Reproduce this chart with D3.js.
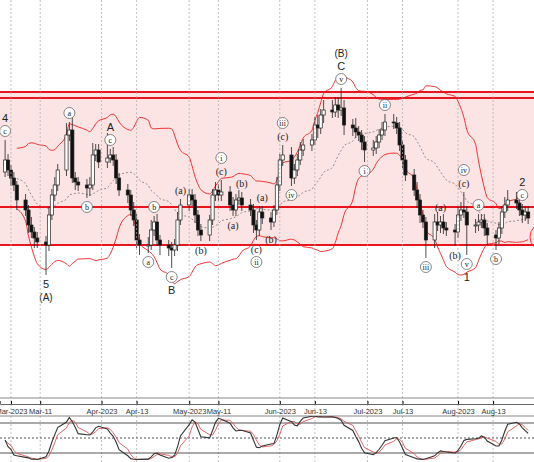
<!DOCTYPE html>
<html><head><meta charset="utf-8">
<script src="https://cdn.jsdelivr.net/npm/d3@7"></script>
<style>body{margin:0;background:#fff}svg{display:block}</style>
</head><body><div id="chart"></div>
<script>
// daily closes, one row per week (Mon..Fri), from 2023-02-27
const closes = [
 240,230,222,215,200, 190,175,168,162,158, 155,185,205,215,230, 265,270,222,218,215,
 212,215,245,250,238, 242,245,240,222,210, 205,190,180,160,155, 155,170,178,160,155,
 152,150,155,180,195, 205,200,185,170,165, 180,205,210,205,208, 195,190,200,202,195,
 190,175,170,188,182, 178,190,215,240,245, 222,230,240,250,255, 260,275,272,285,290,
 288,295,290,292,275, 272,268,265,258,250, 252,258,265,270,278, 277,272,255,240,225,
 210,200,185,178,160, 178,175,178,172,170, 168,185,190,188,175, 175,178,180,172,165,
 162,172,188,195,200, 197,190,185,188,182];
const opens0 = 228;
// wick lengths above/below the body
const wickUp = [
 20,6,5,6,4, 6,5,8,5,6, 6,8,6,8,6, 12,8,14,6,5,
 6,8,12,6,6, 25,6,8,6,5, 6,5,8,6,6, 8,10,6,8,5,
 5,6,6,8,6, 6,6,6,5,6, 5,6,8,6,12, 6,8,6,8,6,
 6,6,5,6,6, 6,5,8,6,10, 8,6,6,8,6, 6,8,10,6,10,
 10,8,8,20,8, 6,10,6,5,6, 8,6,6,8,8, 8,6,6,5,5,
 6,8,6,5,5, 8,10,6,8,6, 6,8,8,18,6, 6,8,6,6,5,
 5,6,6,8,10, 8,6,6,6,6];
const wickDn = [
 5,6,8,6,10, 6,8,6,10,6, 30,6,5,6,6, 6,6,5,8,6,
 10,8,5,6,6, 6,5,6,6,6, 8,6,6,8,10, 8,5,6,6,10,
 8,18,6,6,5, 6,6,8,6,6, 6,5,6,6,6, 6,6,6,5,6,
 6,8,10,6,6, 8,5,5,6,6, 8,6,6,5,6, 6,5,10,6,8,
 6,5,8,6,10, 8,6,6,8,12, 6,6,6,5,6, 6,6,6,8,6,
 6,8,8,6,18, 8,6,8,6,6, 14,6,6,6,30, 8,6,6,8,10,
 12,6,6,6,6, 6,6,8,6,6];
// wave labels: date, text, circled?, above/below, stack row
const waveLabels = [
 ["2023-02-27","c",1,"hi",0],["2023-02-27","4",0,"hi",1],
 ["2023-03-13","5",0,"lo",0],["2023-03-13","(A)",0,"lo",1],
 ["2023-03-21","a",1,"hi",0],["2023-03-27","b",1,"lo",0],
 ["2023-04-04","c",1,"hi",0],["2023-04-04","A",0,"hi",1],
 ["2023-04-17","a",1,"lo",0],["2023-04-19","b",1,"hi",0],
 ["2023-04-25","c",1,"lo",0],["2023-04-25","B",0,"lo",1],
 ["2023-04-28","(a)",0,"hi",0],["2023-05-05","(b)",0,"lo",0],
 ["2023-05-12","(c)",0,"hi",0],["2023-05-12","i",1,"hi",1],
 ["2023-05-16","(a)",0,"lo",0],["2023-05-19","(b)",0,"hi",0],
 ["2023-05-24","(c)",0,"lo",0],["2023-05-24","ii",1,"lo",1],
 ["2023-05-26","(a)",0,"hi",0],["2023-05-29","(b)",0,"lo",0],
 ["2023-06-02","(c)",0,"hi",0],["2023-06-02","iii",1,"hi",1],
 ["2023-06-05","iv",1,"lo",0],
 ["2023-06-22","v",1,"hi",0],["2023-06-22","C",0,"hi",1],["2023-06-22","(B)",0,"hi",2],
 ["2023-06-30","i",1,"lo",0],["2023-07-07","ii",1,"hi",0],["2023-07-21","iii",1,"lo",0],
 ["2023-07-26","(a)",0,"hi",0],["2023-07-31","(b)",0,"lo",0],
 ["2023-08-03","(c)",0,"hi",0],["2023-08-03","iv",1,"hi",1],
 ["2023-08-04","v",1,"lo",0],["2023-08-04","1",0,"lo",1],
 ["2023-08-08","a",1,"hi",0],["2023-08-14","b",1,"lo",0],
 ["2023-08-23","c",1,"hi",0],["2023-08-23","2",0,"hi",1]];
const levels = [308, 302, 193, 155];
const tickDates = ["2023-03-01","2023-03-11","2023-04-01","2023-04-13","2023-05-01","2023-05-11",
 "2023-06-01","2023-06-13","2023-07-01","2023-07-13","2023-08-01","2023-08-13"];
const tickLabels = ["Mar-2023","Mar-11","Apr-2023","Apr-13","May-2023","May-11",
 "Jun-2023","Jun-13","Jul-2023","Jul-13","Aug-2023","Aug-13"];

const W = 534, H = 462;
const parse = d3.timeParse("%Y-%m-%d");
const dates = [];
for (let d = parse("2023-02-27"); dates.length < closes.length; d = d3.timeDay.offset(d, 1))
  if (d.getDay() > 0 && d.getDay() < 6) dates.push(d);
const bars = closes.map((c, i) => {
  const o = i ? closes[i-1] : opens0;
  return {date: dates[i], o, c, h: Math.max(o, c) + wickUp[i], l: Math.min(o, c) - wickDn[i]};
});

const x = d3.scaleTime().domain([new Date(2023,1,25,6), new Date(2023,7,27)]).range([0, W]);
const y = d3.scaleLinear().domain([0, 400]).range([400, 0]);
const ys = d3.scaleLinear().domain([0, 100]).range([463, 413]);

const svg = d3.select("#chart").append("svg").attr("width", W).attr("height", H)
  .style("font-family", "Liberation Sans, Arial, sans-serif");
svg.append("defs").append("clipPath").attr("id", "main").append("rect")
  .attr("width", W).attr("height", 398);
svg.append("defs").append("clipPath").attr("id", "low").append("rect")
  .attr("y", 416).attr("width", W).attr("height", 46);
const g = svg.append("g").attr("clip-path", "url(#main)");

// band
g.append("rect").attr("x", 0).attr("width", W).attr("y", y(levels[0]))
  .attr("height", y(levels[3]) - y(levels[0])).attr("fill", "#fde4e4");

// grid
svg.append("g").selectAll("line").data(tickDates).join("line")
  .attr("x1", d => x(parse(d))).attr("x2", d => x(parse(d)))
  .attr("y1", 0).attr("y2", H).attr("stroke", "#aaa").attr("stroke-dasharray", "2,2").attr("stroke-width", 0.7);

// bollinger
const bb = bars.map((b, i) => {
  const w = closes.slice(Math.max(0, i - 19), i + 1);
  const m = d3.mean(w), s = d3.deviation(w) || 0;
  return {date: b.date, m, u: m + 2 * s, l: m - 2 * s};
}).slice(4);
const line = k => d3.line().x(d => x(d.date)).y(d => y(d[k])).curve(d3.curveMonotoneX);
g.append("path").datum(bb).attr("d", line("u")).attr("fill", "none").attr("stroke", "#e33").attr("stroke-width", 1);
g.append("path").datum(bb).attr("d", line("l")).attr("fill", "none").attr("stroke", "#e33").attr("stroke-width", 1);
g.append("path").datum(bb).attr("d", line("m")).attr("fill", "none").attr("stroke", "#777")
  .attr("stroke-width", 0.8).attr("stroke-dasharray", "2,2");

// levels
g.selectAll(".lvl").data(levels).join("line")
  .attr("x1", 0).attr("x2", W).attr("y1", d => y(d)).attr("y2", d => y(d))
  .attr("stroke", "#e8141e").attr("stroke-width", 2);

// candles
const cg = g.selectAll(".c").data(bars).join("g");
cg.append("line").attr("x1", d => x(d.date)).attr("x2", d => x(d.date))
  .attr("y1", d => y(d.h)).attr("y2", d => y(d.l)).attr("stroke", "#222").attr("stroke-width", 0.8);
cg.append("rect").attr("x", d => x(d.date) - 1.6).attr("width", 3.2)
  .attr("y", d => y(Math.max(d.o, d.c))).attr("height", d => Math.max(1, Math.abs(y(d.o) - y(d.c))))
  .attr("fill", d => d.c >= d.o ? "#fff" : "#111").attr("stroke", "#222").attr("stroke-width", 0.7);

// red circle at right edge
g.append("circle").attr("cx", 544).attr("cy", 237).attr("r", 14).attr("fill", "none").attr("stroke", "#e33");

// labels
const byDate = new Map(bars.map(b => [+b.date, b]));
const lg = g.append("g").style("font-family", "Liberation Serif, serif");
waveLabels.forEach(([ds, t, circ, side, row]) => {
  const b = byDate.get(+parse(ds));
  const cx = x(b.date);
  const base = side === "hi" ? y(b.h) - 9 : y(b.l) + 9;
  const cy = base + (side === "hi" ? -1 : 1) * row * 13;
  if (circ) lg.append("circle").attr("cx", cx).attr("cy", cy).attr("r", 5.5)
    .attr("fill", "#fff").attr("stroke", "#555").attr("stroke-width", 0.7);
  lg.append("text").attr("x", cx).attr("y", cy).attr("dy", "0.35em").attr("text-anchor", "middle")
    .style("font-size", circ ? "8px" : (t.length < 3 && !t.includes("(") ? "11px" : "10px"))
    .style("font-family", (!circ && /^[0-9A-C]$|\(A\)|\(B\)/.test(t)) ? "Liberation Sans, sans-serif" : null)
    .attr("fill", "#222").text(t);
});

// axis strip
svg.append("line").attr("x1", 0).attr("x2", W).attr("y1", 398).attr("y2", 398).attr("stroke", "#888");
svg.append("line").attr("x1", 0).attr("x2", W).attr("y1", 416).attr("y2", 416).attr("stroke", "#888");
const ax = svg.append("g").attr("transform", "translate(0,404)")
  .call(d3.axisTop(x).tickValues(tickDates.map(parse)).tickSize(3)
    .tickFormat((d, i) => tickLabels[i]));
ax.select(".domain").attr("stroke", "#666");
ax.selectAll("text").attr("y", 6).attr("dy", "0.5em").style("font-size", "7.5px").attr("fill", "#333");

// stochastic (14,3,3)
const kRaw = bars.map((b, i) => {
  const w = bars.slice(Math.max(0, i - 13), i + 1);
  const hh = d3.max(w, d => d.h), ll = d3.min(w, d => d.l);
  return 100 * (b.c - ll) / (hh - ll || 1);
});
const k = kRaw.map((v, i) => d3.mean(kRaw.slice(Math.max(0, i - 2), i + 1)));
const dl = k.map((v, i) => d3.mean(k.slice(Math.max(0, i - 2), i + 1)));
const sg = svg.append("g").attr("clip-path", "url(#low)");
[80, 20].forEach(v => sg.append("line").attr("x1", 0).attr("x2", W).attr("y1", ys(v)).attr("y2", ys(v)).attr("stroke", "#555"));
sg.append("line").attr("x1", 0).attr("x2", W).attr("y1", ys(50)).attr("y2", ys(50)).attr("stroke", "#555").attr("stroke-dasharray", "2,2");
const sl = arr => d3.line().x((d, i) => x(bars[i].date)).y(d => ys(d))(arr);
sg.append("path").attr("d", sl(dl)).attr("fill", "none").attr("stroke", "#d55").attr("stroke-width", 0.9);
sg.append("path").attr("d", sl(k)).attr("fill", "none").attr("stroke", "#333").attr("stroke-width", 1.1);
</script></body></html>
